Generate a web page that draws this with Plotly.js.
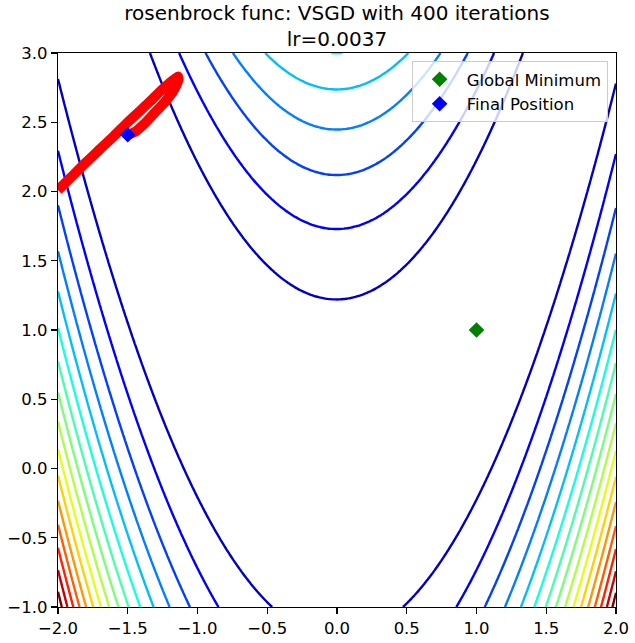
<!DOCTYPE html>
<html>
<head>
<meta charset="utf-8">
<script src="https://cdn.plot.ly/plotly-3.0.1.min.js"></script>
<style>html,body{margin:0;padding:0;background:#fff;}#chart{width:635px;height:643px;}</style>
</head>
<body>
<div id="chart"></div>
<script>
// ---- data ----
const xRange = [-2, 2];
const yRange = [-1, 3];
const gridN = 241;
const levelStart = 150, levelEnd = 2400, levelStep = 150;
const normMin = 0, normMax = 2400;

// optimiser path (x, y)
const pathX = [-2.00, -1.90, -1.80, -1.70, -1.60, -1.50, -1.42, -1.34, -1.26, -1.20, -1.16, -1.14, -1.135, -1.15, -1.18, -1.24, -1.31, -1.38, -1.45, -1.50];
const pathY = [ 2.01,  2.11,  2.21,  2.305, 2.40,  2.50,  2.575, 2.65,  2.73,  2.785, 2.815, 2.83,  2.81,  2.77,  2.715, 2.64,  2.565, 2.49,  2.43,  2.41];

const globalMinX = [1.0];
const globalMinY = [1.0];
const finalX = [-1.5];
const finalY = [2.41];

const xTickVals = [-2, -1.5, -1, -0.5, 0, 0.5, 1, 1.5, 2];
const xTickText = ['\u22122.0', '\u22121.5', '\u22121.0', '\u22120.5', '0.0', '0.5', '1.0', '1.5', '2.0'];
const yTickVals = [-1, -0.5, 0, 0.5, 1, 1.5, 2, 2.5, 3];
const yTickText = ['\u22121.0', '\u22120.5', '0.0', '0.5', '1.0', '1.5', '2.0', '2.5', '3.0'];

// ---- rosenbrock surface (function named in the title) ----
function rosen(x, y) { return (1 - x) * (1 - x) + 100 * (y - x * x) * (y - x * x); }
const gx = [], gy = [], gz = [];
for (let i = 0; i < gridN; i++) gx.push(xRange[0] + (xRange[1] - xRange[0]) * i / (gridN - 1));
for (let j = 0; j < gridN; j++) gy.push(yRange[0] + (yRange[1] - yRange[0]) * j / (gridN - 1));
for (let j = 0; j < gridN; j++) { const row = []; for (let i = 0; i < gridN; i++) row.push(rosen(gx[i], gy[j])); gz.push(row); }

// matplotlib 'jet' colormap (norm 0..2400) remapped onto plotly's level range
const jetR = [[0,0],[0.35,0],[0.66,1],[0.89,1],[1,0.5]];
const jetG = [[0,0],[0.125,0],[0.375,1],[0.64,1],[0.91,0],[1,0]];
const jetB = [[0,0.5],[0.11,1],[0.34,1],[0.65,0],[1,0]];
function interp(seg, t) { for (let k = 1; k < seg.length; k++) { if (t <= seg[k][0]) { const a = seg[k-1], b = seg[k]; return a[1] + (b[1]-a[1]) * (t - a[0]) / (b[0] - a[0]); } } return seg[seg.length-1][1]; }
function jetColor(t) { return 'rgb(' + Math.round(255*interp(jetR,t)) + ',' + Math.round(255*interp(jetG,t)) + ',' + Math.round(255*interp(jetB,t)) + ')'; }
const jetStops = [0,0.11,0.125,0.34,0.35,0.375,0.5,0.64,0.65,0.66,0.75,0.89,0.91,1];
const t0 = (levelStart - normMin) / (normMax - normMin);
const t1 = (levelEnd - normMin) / (normMax - normMin);
const colorscale = [[0, jetColor(t0)]];
jetStops.forEach(t => { if (t > t0 && t < t1) colorscale.push([(t - t0) / (t1 - t0), jetColor(t)]); });
colorscale.push([1, jetColor(t1)]);

const traces = [
  {
    type: 'contour', x: gx, y: gy, z: gz,
    zauto: false, zmin: levelStart, zmax: levelEnd,
    autocontour: false,
    contours: { coloring: 'lines', start: levelStart, end: levelEnd, size: levelStep, showlabels: false },
    colorscale: colorscale, showscale: false, line: { width: 2.4, smoothing: 1 },
    hoverinfo: 'skip', showlegend: false
  },
  {
    type: 'scatter', mode: 'lines', x: pathX, y: pathY,
    line: { color: '#ff0000', width: 10, shape: 'spline', smoothing: 0.5 },
    showlegend: false, hoverinfo: 'skip'
  },
  {
    type: 'scatter', mode: 'markers', x: globalMinX, y: globalMinY, name: 'Global Minimum', legendgroup: 'g1',
    marker: { symbol: 'diamond', size: 12, color: 'green' }
  },
  {
    type: 'scatter', mode: 'markers', x: finalX, y: finalY, name: 'Final Position', legendgroup: 'g2',
    marker: { symbol: 'diamond', size: 12, color: 'blue' }
  }
];

const axisCommon = {
  showgrid: false, zeroline: false, showline: true, mirror: true,
  linecolor: '#000', linewidth: 1.3, ticks: 'outside', ticklen: 6, tickwidth: 1.3, tickcolor: '#000',
  tickfont: { family: 'DejaVu Sans', size: 16.5, color: '#000' }, tickmode: 'array'
};

const layout = {
  width: 635, height: 643,
  margin: { l: 58, r: 19, t: 53, b: 36, pad: 0 },
  paper_bgcolor: '#fff', plot_bgcolor: '#fff',
  font: { family: 'DejaVu Sans', color: '#000' },
  title: {
    text: 'rosenbrock func: VSGD with 400 iterations<br>lr=0.0037',
    font: { family: 'DejaVu Sans', size: 20, color: '#000' },
    x: 0.5, xref: 'paper', xanchor: 'center', y: 1, yref: 'paper', yanchor: 'bottom',
    pad: { b: 33 }
  },
  xaxis: Object.assign({}, axisCommon, { range: xRange, tickvals: xTickVals, ticktext: xTickText }),
  yaxis: Object.assign({}, axisCommon, { range: yRange, tickvals: yTickVals, ticktext: yTickText }),
  legend: {
    x: 0.985, xanchor: 'right', y: 0.9855, yanchor: 'top',
    itemwidth: 44, tracegroupgap: 0,
    bgcolor: 'rgba(255,255,255,0.8)', bordercolor: '#cccccc', borderwidth: 1,
    font: { family: 'DejaVu Sans', size: 16.5, color: '#000' }
  },
  showlegend: true
};

Plotly.newPlot('chart', traces, layout, { staticPlot: true, displayModeBar: false });
</script>
</body>
</html>
